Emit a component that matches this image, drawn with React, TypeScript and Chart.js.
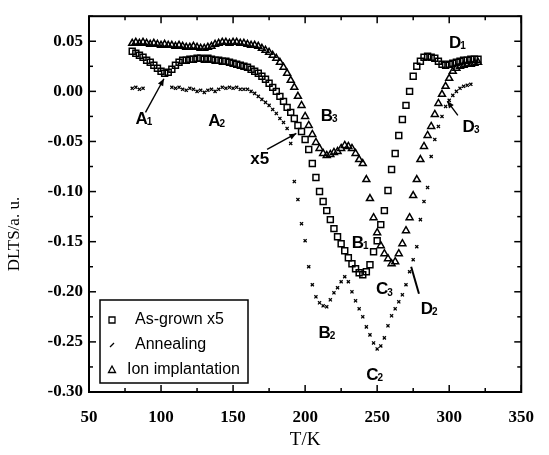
import React, { useEffect, useRef } from 'react';
import { Chart, registerables } from 'chart.js';
Chart.register(...registerables);

// ---- data ----
const tempGrid = [
  80, 82.5, 85, 87.5, 90, 92.5, 95, 97.5, 100, 102.5,
  105, 107.5, 110, 112.5, 115, 117.5, 120, 122.5, 125, 127.5,
  130, 132.5, 135, 137.5, 140, 142.5, 145, 147.5, 150, 152.5,
  155, 157.5, 160, 162.5, 165, 167.5, 170, 172.5, 175, 177.5,
  180, 182.5, 185, 187.5, 190, 192.5, 195, 197.5, 200, 202.5,
  205, 207.5, 210, 212.5, 215, 217.5, 220, 222.5, 225, 227.5,
  230, 232.5, 235, 237.5, 240, 242.5, 245, 247.5, 250, 252.5,
  255, 257.5, 260, 262.5, 265, 267.5, 270, 272.5, 275, 277.5,
  280, 282.5, 285, 287.5, 290, 292.5, 295, 297.5, 300, 302.5,
  305, 307.5, 310, 312.5, 315, 317.5, 320,
];

const asGrownValues = [
  0.040, 0.038, 0.036, 0.034, 0.031, 0.029, 0.026, 0.023, 0.020, 0.018,
  0.019, 0.022, 0.026, 0.029, 0.031, 0.031, 0.032, 0.032, 0.033, 0.033,
  0.032, 0.033, 0.032, 0.031, 0.031, 0.030, 0.030, 0.029, 0.028, 0.027,
  0.026, 0.025, 0.024, 0.022, 0.020, 0.018, 0.015, 0.012, 0.008, 0.004,
  0.000, -0.005, -0.010, -0.016, -0.021, -0.027, -0.034, -0.040, -0.048, -0.058,
  -0.072, -0.086, -0.100, -0.110, -0.119, -0.128, -0.137, -0.145, -0.152, -0.159,
  -0.166, -0.172, -0.177, -0.181, -0.183, -0.180, -0.173, -0.160, -0.149, -0.133,
  -0.119, -0.099, -0.078, -0.062, -0.044, -0.028, -0.014, 0.000, 0.015, 0.025,
  0.030, 0.034, 0.035, 0.034, 0.033, 0.030, 0.027, 0.026, 0.027, 0.028,
  0.029, 0.030, 0.031, 0.031, 0.032, 0.032, 0.032,
];

const ionValues = [
  0.048, 0.049, 0.048, 0.049, 0.048, 0.047, 0.048, 0.047, 0.046, 0.047,
  0.046, 0.046, 0.045, 0.046, 0.045, 0.044, 0.044, 0.045, 0.044, 0.043,
  0.043, 0.044, 0.045, 0.047, 0.048, 0.049, 0.049, 0.048, 0.049, 0.049,
  0.048, 0.048, 0.047, 0.046, 0.046, 0.045, 0.043, 0.041, 0.039, 0.036,
  0.033, 0.029, 0.024, 0.018, 0.011, 0.004, -0.005, -0.014, -0.025, -0.034,
  -0.043, -0.051, -0.057, -0.062, -0.064, -0.063, -0.061, -0.060, -0.057, -0.054,
  -0.055, -0.057, -0.062, -0.068, -0.072, -0.088, -0.107, -0.126, -0.141, -0.154,
  -0.162, -0.167, -0.172, -0.170, -0.162, -0.152, -0.139, -0.126, -0.104, -0.088,
  -0.068, -0.055, -0.044, -0.035, -0.023, -0.012, -0.003, 0.005, 0.013, 0.020,
  0.023, 0.025, 0.026, 0.027, 0.027, 0.028, 0.029,
];

const annealTemps = [
  80, 82.5, 85, 87.5, 107.5, 110, 112.5, 115, 117.5, 120,
  122.5, 125, 127.5, 130, 132.5, 135, 137.5, 140, 142.5, 145,
  147.5, 150, 152.5, 155, 157.5, 160, 162.5, 165, 167.5, 170,
  172.5, 175, 177.5, 180, 182.5, 185, 187.5, 190, 192.5, 195,
  197.5, 200, 202.5, 205, 207.5, 210, 212.5, 215, 217.5, 220,
  222.5, 225, 227.5, 230, 232.5, 235, 237.5, 240, 242.5, 245,
  247.5, 250, 252.5, 255, 257.5, 260, 262.5, 265, 267.5, 270,
  272.5, 275, 277.5, 280, 282.5, 285, 287.5, 290, 292.5, 295,
  297.5, 300, 302.5, 305, 307.5, 310, 312.5, 315,
];

const annealValues = [
  0.003, 0.004, 0.002, 0.003, 0.004, 0.003, 0.004, 0.002, 0.001, 0.003,
  0.002, 0.000, 0.001, -0.001, 0.001, 0.002, 0.000, 0.002, 0.004, 0.003,
  0.004, 0.003, 0.004, 0.002, 0.002, 0.002, 0.000, -0.002, -0.005, -0.008,
  -0.011, -0.014, -0.018, -0.022, -0.027, -0.031, -0.037, -0.052, -0.090, -0.108,
  -0.132, -0.149, -0.175, -0.193, -0.205, -0.211, -0.214, -0.215, -0.208, -0.201,
  -0.196, -0.190, -0.185, -0.190, -0.200, -0.209, -0.217, -0.225, -0.235, -0.243,
  -0.251, -0.257, -0.254, -0.246, -0.234, -0.224, -0.217, -0.210, -0.203, -0.193,
  -0.180, -0.168, -0.155, -0.128, -0.110, -0.096, -0.065, -0.048, -0.035, -0.025,
  -0.015, -0.009, -0.004, 0.000, 0.003, 0.005, 0.006, 0.007,
];

const seriesNames = ['As-grown x5', 'Annealing', 'Ion implantation'];

const xTickValues = [50, 100, 150, 200, 250, 300, 350];
const xTickMarks = [50, 75, 100, 125, 150, 175, 200, 225, 250, 275, 300, 325, 350];
const yTickValues = [-0.3, -0.25, -0.2, -0.15, -0.1, -0.05, 0, 0.05];
const yTickMarks = [-0.3, -0.275, -0.25, -0.225, -0.2, -0.175, -0.15, -0.125, -0.1, -0.075, -0.05, -0.025, 0, 0.025, 0.05, 0.075];

// peak labels anchored in data units (T, DLTS)
const peakLabels = [
  { text: 'A', sub: '1', t: 88.5, v: -0.028 },
  { text: 'A', sub: '2', t: 139, v: -0.030 },
  { text: 'B', sub: '3', t: 217, v: -0.025 },
  { text: 'x5', sub: '', t: 168.5, v: -0.068 },
  { text: 'B', sub: '1', t: 238.5, v: -0.152 },
  { text: 'C', sub: '3', t: 255.4, v: -0.198 },
  { text: 'D', sub: '2', t: 286.5, v: -0.217 },
  { text: 'B', sub: '2', t: 215.5, v: -0.241 },
  { text: 'C', sub: '2', t: 248.6, v: -0.283 },
  { text: 'D', sub: '1', t: 306, v: 0.048 },
  { text: 'D', sub: '3', t: 315.5, v: -0.036 },
];

const pointerLines = [
  { from: [89.2, -0.021], to: [102, 0.0126], head: true },
  { from: [173.6, -0.058], to: [193.9, -0.042], head: true },
  { from: [306, -0.024], to: [298.6, -0.0097], head: true },
  { from: [279, -0.202], to: [273.6, -0.175], head: false },
];

const SERIF = "'Liberation Serif', 'DejaVu Serif', serif";
const SANS = "'Liberation Sans', Arial, sans-serif";

function makePoints(ts: number[], vs: number[]) {
  return ts.map((t, i) => ({ x: t, y: vs[i] }));
}

const framePlugin = {
  id: 'frameTicks',
  afterDatasetsDraw(chart: any) {
    const { ctx, chartArea: a, scales } = chart;
    const xs = scales.x;
    const ys = scales.y;
    ctx.save();
    ctx.strokeStyle = '#000';
    ctx.lineWidth = 1.5;
    const seg = (x1: number, y1: number, x2: number, y2: number) => {
      ctx.beginPath();
      ctx.moveTo(x1, y1);
      ctx.lineTo(x2, y2);
      ctx.stroke();
    };
    xTickMarks.forEach((v) => {
      const px = xs.getPixelForValue(v);
      const len = xTickValues.includes(v) ? 7 : 4;
      seg(px, a.bottom, px, a.bottom - len);
      seg(px, a.top, px, a.top + len);
    });
    yTickMarks.forEach((v) => {
      const py = ys.getPixelForValue(v);
      const major = yTickValues.some((m) => Math.abs(m - v) < 1e-9);
      const len = major ? 7 : 4;
      seg(a.left, py, a.left + len, py);
      seg(a.right, py, a.right - len, py);
    });
    ctx.lineWidth = 2;
    ctx.strokeRect(a.left, a.top, a.right - a.left, a.bottom - a.top);

    // axis titles
    ctx.fillStyle = '#000';
    ctx.font = `17px ${SERIF}`;
    ctx.textAlign = 'center';
    ctx.textBaseline = 'middle';
    ctx.save();
    ctx.translate(15, (a.top + a.bottom) / 2 + 30);
    ctx.rotate(-Math.PI / 2);
    ctx.fillText('DLTS/a. u.', 0, 0);
    ctx.restore();
    ctx.font = `19px ${SERIF}`;
    ctx.fillText('T/K', (a.left + a.right) / 2, a.bottom + 48);
    ctx.restore();
  },
};

const annotPlugin = {
  id: 'peakAnnotations',
  afterDatasetsDraw(chart: any) {
    const { ctx, scales } = chart;
    const xs = scales.x;
    const ys = scales.y;
    ctx.save();
    ctx.fillStyle = '#000';
    ctx.strokeStyle = '#000';
    ctx.textBaseline = 'middle';
    ctx.textAlign = 'left';
    peakLabels.forEach((l) => {
      const px = xs.getPixelForValue(l.t);
      const py = ys.getPixelForValue(l.v);
      ctx.font = `bold 17px ${SANS}`;
      const w1 = ctx.measureText(l.text).width;
      ctx.font = `bold 10px ${SANS}`;
      const w2 = l.sub ? ctx.measureText(l.sub).width : 0;
      const x0 = px - (w1 + w2) / 2;
      ctx.font = `bold 17px ${SANS}`;
      ctx.fillText(l.text, x0, py);
      if (l.sub) {
        ctx.font = `bold 10px ${SANS}`;
        ctx.fillText(l.sub, x0 + w1 - 1, py + 3);
      }
    });
    pointerLines.forEach((p) => {
      const x1 = xs.getPixelForValue(p.from[0]);
      const y1 = ys.getPixelForValue(p.from[1]);
      const x2 = xs.getPixelForValue(p.to[0]);
      const y2 = ys.getPixelForValue(p.to[1]);
      ctx.lineWidth = p.head ? 1.4 : 2;
      ctx.beginPath();
      ctx.moveTo(x1, y1);
      ctx.lineTo(x2, y2);
      ctx.stroke();
      if (p.head) {
        const ang = Math.atan2(y2 - y1, x2 - x1);
        const L = 7;
        const W = 3;
        ctx.beginPath();
        ctx.moveTo(x2, y2);
        ctx.lineTo(x2 - L * Math.cos(ang) + W * Math.sin(ang), y2 - L * Math.sin(ang) - W * Math.cos(ang));
        ctx.lineTo(x2 - L * Math.cos(ang) - W * Math.sin(ang), y2 - L * Math.sin(ang) + W * Math.cos(ang));
        ctx.closePath();
        ctx.fill();
      }
    });
    ctx.restore();
  },
};

const legendPlugin = {
  id: 'boxLegend',
  afterDatasetsDraw(chart: any) {
    const { ctx, chartArea: a } = chart;
    const left = a.left + 11;
    const top = a.bottom - 92;
    const w = 148;
    const h = 83;
    ctx.save();
    ctx.fillStyle = '#fff';
    ctx.fillRect(left, top, w, h);
    ctx.strokeStyle = '#000';
    ctx.lineWidth = 1.5;
    ctx.strokeRect(left, top, w, h);
    ctx.fillStyle = '#000';
    ctx.font = `16px ${SANS}`;
    ctx.textBaseline = 'middle';
    ctx.textAlign = 'left';
    const textOffsets = [35, 35, 27];
    seriesNames.forEach((name, i) => {
      const cy = top + 20 + i * 25;
      const mx = left + 12;
      ctx.lineWidth = 1.3;
      ctx.beginPath();
      if (i === 0) {
        ctx.rect(mx - 3, cy - 3, 6, 6);
      } else if (i === 1) {
        ctx.moveTo(mx - 2, cy + 2);
        ctx.lineTo(mx + 2, cy - 2);
      } else {
        ctx.moveTo(mx, cy - 4);
        ctx.lineTo(mx + 3.5, cy + 2.5);
        ctx.lineTo(mx - 3.5, cy + 2.5);
        ctx.closePath();
      }
      ctx.stroke();
      ctx.fillText(name, left + textOffsets[i], cy);
    });
    ctx.restore();
  },
};

export default function App() {
  const ref = useRef<HTMLCanvasElement>(null);
  useEffect(() => {
    const tickFont = { family: SERIF, size: 17, weight: 'bold' as const };
    const chart = new Chart(ref.current as HTMLCanvasElement, {
      type: 'scatter',
      data: {
        datasets: [
          {
            label: seriesNames[0],
            data: makePoints(tempGrid, asGrownValues),
            pointStyle: 'rect',
            pointRadius: 4.2,
            borderColor: '#000',
            backgroundColor: 'rgba(0,0,0,0)',
            borderWidth: 1.5,
            showLine: false,
          },
          {
            label: seriesNames[1],
            data: makePoints(annealTemps, annealValues),
            pointStyle: 'crossRot',
            pointRadius: 2.2,
            borderColor: '#000',
            backgroundColor: '#000',
            borderWidth: 1.3,
            showLine: false,
          },
          {
            label: seriesNames[2],
            data: makePoints(tempGrid, ionValues),
            pointStyle: 'triangle',
            pointRadius: 4,
            borderColor: '#000',
            backgroundColor: 'rgba(0,0,0,0)',
            borderWidth: 1.5,
            showLine: false,
          },
        ],
      },
      options: {
        animation: false,
        responsive: false,
        devicePixelRatio: 1,
        layout: { padding: { top: 6, right: 16, left: 0, bottom: 0 } },
        plugins: { legend: { display: false }, tooltip: { enabled: false } },
        scales: {
          x: {
            type: 'linear',
            min: 50,
            max: 350,
            afterBuildTicks: (s: any) => {
              s.ticks = xTickValues.map((v) => ({ value: v }));
            },
            afterFit: (s: any) => {
              s.height = 63;
            },
            grid: { display: false, drawTicks: false },
            border: { display: false },
            ticks: {
              font: tickFont,
              color: '#000',
              padding: 15,
              maxRotation: 0,
              autoSkip: false,
              callback: (v: any) => String(v),
            },
          },
          y: {
            type: 'linear',
            min: -0.3,
            max: 0.075,
            afterBuildTicks: (s: any) => {
              s.ticks = yTickValues.map((v) => ({ value: v }));
            },
            afterFit: (s: any) => {
              s.width = 89;
            },
            grid: { display: false, drawTicks: false },
            border: { display: false },
            ticks: {
              font: tickFont,
              color: '#000',
              padding: 6,
              autoSkip: false,
              callback: (v: any) => Number(v).toFixed(2),
            },
          },
        },
      },
      plugins: [framePlugin, annotPlugin, legendPlugin],
    });
    return () => chart.destroy();
  }, []);
  return (
    <div style={{ position: 'absolute', left: 0, top: 0, width: 549, height: 455, background: '#fff' }}>
      <canvas ref={ref} width={549} height={455} />
    </div>
  );
}
